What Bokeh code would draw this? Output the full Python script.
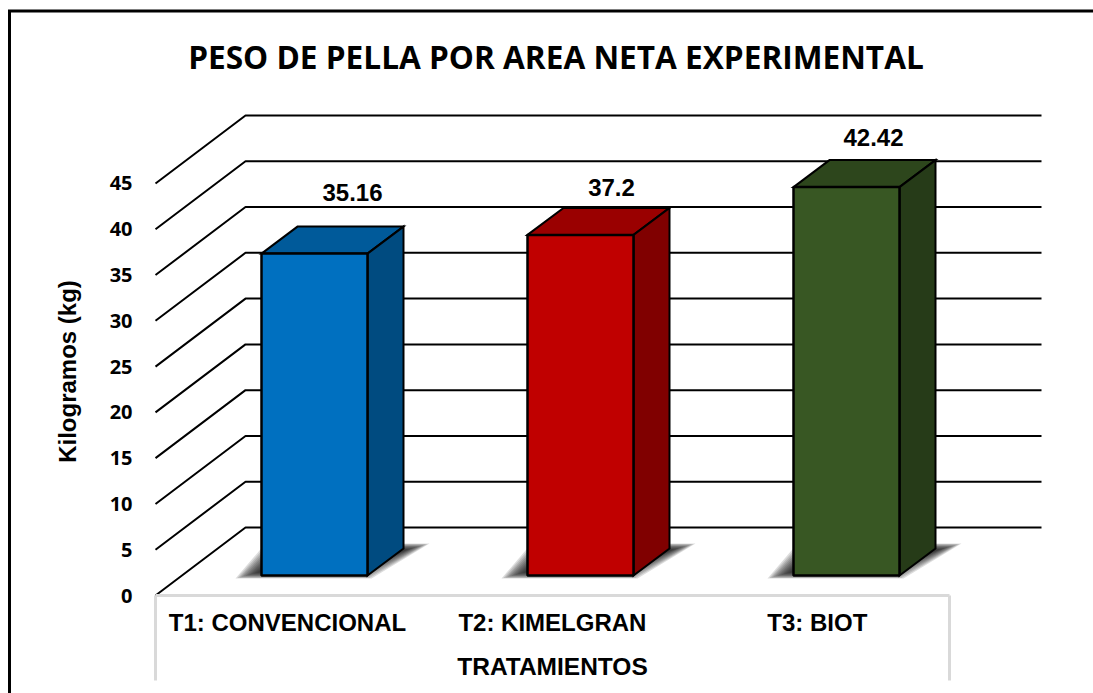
from bokeh.plotting import figure
from bokeh.embed import file_html
from bokeh.resources import INLINE
from bokeh.models import LinearAxis, FixedTicker, Range1d, ColumnDataSource
from bokeh.core.properties import value

# ---- data
categories = ["T1: CONVENCIONAL", "T2: KIMELGRAN", "T3: BIOT"]
values = [35.16, 37.2, 42.42]
value_labels = ["35.16", "37.2", "42.42"]
y_ticks = [0, 5, 10, 15, 20, 25, 30, 35, 40, 45]
category_ticks = [0, 0.996, 1.992]
front_colors = ["#0070C0", "#C00000", "#385723"]
top_colors = ["#005A9A", "#9A0000", "#2D461C"]
side_colors = ["#004B80", "#800000", "#263B18"]
title_text = "PESO DE PELLA POR AREA NETA EXPERIMENTAL"
y_title = "Kilogramos (kg)"
x_title = "TRATAMIENTOS"

# ---- layout (page pixels -> data units)
W, H = 1093, 693
PX_CAT = 266.0      # pixels per category
PX_VAL = 9.156      # pixels per y unit
X0_PX, Y0_PX = 287.0, 595.0
def xd(px): return (px - X0_PX) / PX_CAT
def yd(py): return (Y0_PX - py) / PX_VAL
def dx(px): return px / PX_CAT
def dy(px): return px / PX_VAL

p = figure(width=W, height=H, output_backend="svg", toolbar_location=None,
           x_range=Range1d(xd(0), xd(W)), y_range=Range1d(yd(H), yd(0)),
           x_axis_type=None, y_axis_type=None, min_border=0,
           background_fill_color="white", border_fill_color="white", outline_line_color=None)
p.grid.visible = False

# ---- outer frame
p.line(x=[xd(9), xd(9), xd(W)], y=[yd(H), yd(10.5), yd(10.5)],
       line_color="black", line_width=3, line_join="miter")

# ---- walls: side line plus back line for every tick
left = xd(155)
wall_x = dx(90)
wall_y = dy(68)
right = xd(1041)
p.multi_line(xs=[[left, left + wall_x, right] for _ in y_ticks],
             ys=[[t, t + wall_y, t + wall_y] for t in y_ticks],
             line_color="black", line_width=2)

# ---- axes
yax = LinearAxis(ticker=FixedTicker(ticks=y_ticks), fixed_location=left,
                 axis_line_color=None, major_tick_line_color=None, minor_tick_line_color=None,
                 major_label_standoff=17,
                 major_label_text_font="Open Sans", major_label_text_font_style="bold",
                 major_label_text_font_size="20px", major_label_text_color="black")
p.add_layout(yax, "left")

xax = LinearAxis(ticker=FixedTicker(ticks=category_ticks), fixed_location=0,
                 major_label_overrides={t: c for t, c in zip(category_ticks, categories)},
                 bounds=(left, xd(949)),
                 axis_line_color="#D9D9D9", axis_line_width=3,
                 major_tick_line_color=None, minor_tick_line_color=None,
                 major_label_standoff=7,
                 major_label_text_font="Liberation Sans", major_label_text_font_style="bold",
                 major_label_text_font_size="24px", major_label_text_color="black")
p.add_layout(xax, "below")

# table verticals below the axis
p.segment(x0=[left, xd(949)], y0=[0, 0], x1=[left, xd(949)], y1=[yd(680), yd(680)],
          line_color="#D9D9D9", line_width=3)

# ---- bars
half = dx(53)
off_x = dx(27)
base = dy(20)
depth_x = dx(36)
depth_y = dy(27)

# soft shadows
for layer in range(12):
    ins_x = dx(layer * 2.0)
    ins_y = dy(layer * 0.55)
    xs, ys = [], []
    for i in range(len(categories)):
        c = i + off_x
        x_l, x_r = c - half, c + half
        xs.append([x_l - dx(26) + ins_x, x_l + dx(4) + ins_x, x_r + depth_x + dx(26) - ins_x, x_r + dx(4) - ins_x])
        ys.append([base - dy(3) + ins_y, base + dy(32) - ins_y, base + dy(32) - ins_y, base - dy(3) + ins_y])
    p.patches(xs, ys, fill_color="#1a1a1a", fill_alpha=0.15, line_color=None)

for i, v in enumerate(values):
    c = i + off_x
    x_l, x_r = c - half, c + half
    top = base + v
    p.patches(xs=[[x_l, x_l + depth_x, x_r + depth_x, x_r], [x_r, x_r + depth_x, x_r + depth_x, x_r]],
              ys=[[top, top + depth_y, top + depth_y, top], [base, base + depth_y, top + depth_y, top]],
              fill_color=[top_colors[i], side_colors[i]],
              line_color="black", line_width=2, line_join="miter")
    p.quad(left=x_l, right=x_r, bottom=base, top=top, fill_color=front_colors[i],
           line_color="black", line_width=2.5)

# ---- value labels
label_dx = [38, 31, 27]
label_dy = [61, 47, 50]
src = ColumnDataSource(dict(
    x=[i + off_x + dx(label_dx[i]) for i in range(3)],
    y=[base + values[i] + dy(label_dy[i]) for i in range(3)],
    t=value_labels))
p.text(x="x", y="y", text="t", source=src, text_align="center", text_baseline="middle",
       text_font=value("Liberation Sans"), text_font_style="bold", text_font_size="24px", text_color="black")

# ---- titles
p.text(x=[xd(555.5)], y=[yd(55.5)], text=[title_text], text_align="center", text_baseline="middle",
       text_font=value("Open Sans"), text_font_style="bold", text_font_size="31.6px", text_color="black")
p.text(x=[xd(66.5)], y=[yd(371)], text=[y_title], angle=1.5707963, text_align="center", text_baseline="middle",
       text_font=value("Liberation Sans"), text_font_style="bold", text_font_size="24px", text_color="black")
p.text(x=[xd(552)], y=[yd(666)], text=[x_title], text_align="center", text_baseline="middle",
       text_font=value("Liberation Sans"), text_font_style="bold", text_font_size="24.5px", text_color="black")

open("out.html", "w").write(file_html(p, INLINE))
